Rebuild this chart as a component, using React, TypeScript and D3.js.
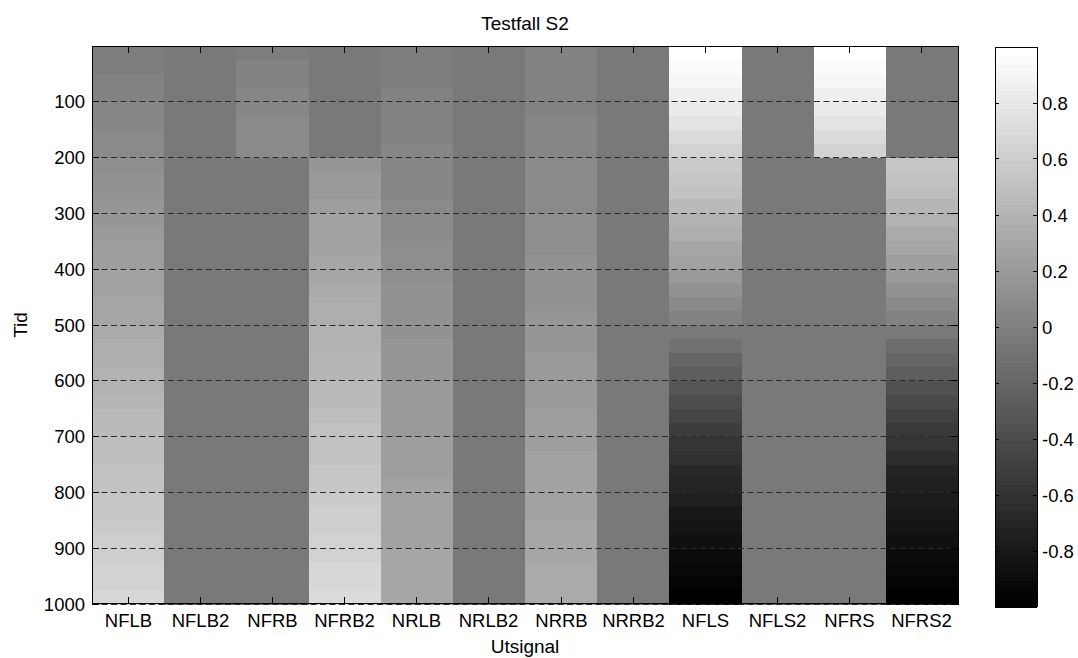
import * as d3 from 'd3'

// signal names along x
const columns = ['NFLB', 'NFLB2', 'NFRB', 'NFRB2', 'NRLB', 'NRLB2', 'NRRB', 'NRRB2', 'NFLS', 'NFLS2', 'NFRS', 'NFRS2']

// one value per 25 time units (40 rows, 0..1000)
const nflb = [
  -0.03, -0.01, 0.0, 0.02, 0.04, 0.06, 0.08, 0.09, 0.11, 0.13,
  0.15, 0.17, 0.18, 0.2, 0.22, 0.24, 0.26, 0.27, 0.29, 0.31,
  0.33, 0.35, 0.36, 0.38, 0.4, 0.42, 0.44, 0.45, 0.47, 0.49,
  0.51, 0.53, 0.54, 0.56, 0.58, 0.6, 0.62, 0.63, 0.65, 0.67,
]
const nflb2 = [
  -0.04, -0.04, -0.04, -0.04, -0.04, -0.04, -0.04, -0.04, -0.04, -0.04,
  -0.04, -0.04, -0.04, -0.04, -0.04, -0.04, -0.04, -0.04, -0.04, -0.04,
  -0.04, -0.04, -0.04, -0.04, -0.04, -0.04, -0.04, -0.04, -0.04, -0.04,
  -0.04, -0.04, -0.04, -0.04, -0.04, -0.04, -0.04, -0.04, -0.04, -0.04,
]
const nfrb = [
  -0.01, 0.01, 0.03, 0.05, 0.06, 0.07, 0.08, 0.09, -0.04, -0.04,
  -0.04, -0.04, -0.04, -0.04, -0.04, -0.04, -0.04, -0.04, -0.04, -0.04,
  -0.04, -0.04, -0.04, -0.04, -0.04, -0.04, -0.04, -0.04, -0.04, -0.04,
  -0.04, -0.04, -0.04, -0.04, -0.04, -0.04, -0.04, -0.04, -0.04, -0.04,
]
const nfrb2 = [
  -0.04, -0.04, -0.04, -0.04, -0.04, -0.04, -0.04, -0.04, 0.18, 0.2,
  0.21, 0.23, 0.25, 0.26, 0.28, 0.3, 0.31, 0.33, 0.35, 0.36,
  0.38, 0.4, 0.41, 0.43, 0.45, 0.46, 0.48, 0.5, 0.51, 0.53,
  0.55, 0.56, 0.58, 0.6, 0.61, 0.63, 0.65, 0.66, 0.68, 0.7,
]
const nrlb = [
  -0.02, -0.01, -0.01, 0.0, 0.01, 0.02, 0.03, 0.04, 0.05, 0.06,
  0.06, 0.07, 0.08, 0.09, 0.1, 0.11, 0.12, 0.13, 0.13, 0.14,
  0.15, 0.16, 0.17, 0.18, 0.19, 0.19, 0.2, 0.21, 0.22, 0.23,
  0.24, 0.25, 0.25, 0.26, 0.27, 0.28, 0.29, 0.3, 0.31, 0.31,
]
const nrlb2 = nflb2.slice()
const nrrb = [
  0.0, 0.01, 0.02, 0.03, 0.03, 0.04, 0.05, 0.06, 0.07, 0.08,
  0.09, 0.09, 0.1, 0.11, 0.12, 0.13, 0.14, 0.15, 0.15, 0.16,
  0.17, 0.18, 0.19, 0.2, 0.21, 0.21, 0.22, 0.23, 0.24, 0.25,
  0.26, 0.27, 0.27, 0.28, 0.29, 0.3, 0.31, 0.32, 0.33, 0.33,
]
const nrrb2 = nflb2.slice()
const nfls = [
  0.99, 0.96, 0.92, 0.87, 0.82, 0.77, 0.71, 0.65, 0.59, 0.55,
  0.5, 0.45, 0.4, 0.35, 0.3, 0.25, 0.19, 0.13, 0.07, 0.01,
  -0.05, -0.12, -0.19, -0.27, -0.34, -0.4, -0.46, -0.52, -0.57, -0.62,
  -0.67, -0.71, -0.75, -0.79, -0.83, -0.86, -0.89, -0.92, -0.95, -0.98,
]
const nfls2 = nflb2.slice()
const nfrs = [
  0.99, 0.96, 0.92, 0.87, 0.82, 0.77, 0.71, 0.65, -0.04, -0.04,
  -0.04, -0.04, -0.04, -0.04, -0.04, -0.04, -0.04, -0.04, -0.04, -0.04,
  -0.04, -0.04, -0.04, -0.04, -0.04, -0.04, -0.04, -0.04, -0.04, -0.04,
  -0.04, -0.04, -0.04, -0.04, -0.04, -0.04, -0.04, -0.04, -0.04, -0.04,
]
const nfrs2 = [
  -0.04, -0.04, -0.04, -0.04, -0.04, -0.04, -0.04, -0.04, 0.55, 0.51,
  0.47, 0.43, 0.39, 0.34, 0.29, 0.24, 0.19, 0.13, 0.07, 0.01,
  -0.06, -0.13, -0.2, -0.28, -0.35, -0.42, -0.48, -0.54, -0.59, -0.64,
  -0.69, -0.73, -0.77, -0.81, -0.84, -0.87, -0.9, -0.93, -0.96, -0.98,
]

const series = [nflb, nflb2, nfrb, nfrb2, nrlb, nrlb2, nrrb, nrrb2, nfls, nfls2, nfrs, nfrs2]

const rowStep = 25
const timeTicks = [100, 200, 300, 400, 500, 600, 700, 800, 900, 1000]
const cbTicks = [-0.8, -0.6, -0.4, -0.2, 0, 0.2, 0.4, 0.6, 0.8]

const W = 1078
const H = 658
const font = '"Liberation Sans", Arial, sans-serif'

// matlab style gray colormap, 64 levels, clim [-1 1]
const nLevels = 64
const gray = (v: number) => {
  let idx = Math.floor(((v + 1) / 2) * nLevels)
  idx = Math.max(0, Math.min(nLevels - 1, idx))
  const g = Math.round((idx / (nLevels - 1)) * 255)
  return `rgb(${g},${g},${g})`
}

// put 1px lines on pixel centres
const snap = (v: number) => Math.floor(v) + 0.5

export default function App() {
  const plot = { left: 92, right: 958, top: 46, bottom: 604 }
  const cb = { left: 995, right: 1037, top: 47, bottom: 607 }

  const x = d3.scaleBand().domain(columns).range([plot.left, plot.right]).padding(0)
  const y = d3.scaleLinear().domain([0, 1000]).range([plot.top, plot.bottom])
  const c = d3.scaleLinear().domain([-1, 1]).range([cb.bottom, cb.top])

  const tick = 7
  const cbTick = 4

  const levels = d3.range(nLevels)

  return (
    <svg width={W} height={H} style={{ position: 'absolute', left: 0, top: 0, background: '#fff' }} fontFamily={font}>
      {/* heatmap cells */}
      <g shapeRendering="crispEdges">
        {series.map((vals, j) =>
          vals.map((v, i) => (
            <rect
              key={`${j}-${i}`}
              x={x(columns[j])!}
              y={y(i * rowStep)}
              width={x.bandwidth() + 0.5}
              height={y(rowStep) - y(0) + 0.5}
              fill={gray(v)}
            />
          ))
        )}
      </g>

      {/* dashed grid */}
      <g>
        {timeTicks.map((t) => (
          <line
            key={t}
            x1={plot.left}
            x2={plot.right}
            y1={snap(y(t))}
            y2={snap(y(t))}
            stroke="#2a2a2a"
            strokeWidth={1}
            strokeDasharray="6 3.5"
          />
        ))}
      </g>

      {/* axes box + ticks */}
      <rect
        x={snap(plot.left)}
        y={snap(plot.top)}
        width={plot.right - plot.left}
        height={plot.bottom - plot.top - 1}
        fill="none"
        stroke="#000"
        strokeWidth={1}
      />
      {columns.map((col) => {
        const cx = snap(x(col)! + x.bandwidth() / 2)
        return (
          <g key={col}>
            <line x1={cx} x2={cx} y1={plot.top} y2={plot.top + tick} stroke="#000" />
            <line x1={cx} x2={cx} y1={plot.bottom} y2={plot.bottom - tick} stroke="#000" />
            <text x={cx} y={626.5} textAnchor="middle" fontSize={18.5} fill="#000">
              {col}
            </text>
          </g>
        )
      })}
      {timeTicks.map((t) => (
        <g key={t}>
          <line x1={plot.left} x2={plot.left + tick} y1={snap(y(t))} y2={snap(y(t))} stroke="#000" />
          <line x1={plot.right} x2={plot.right - tick} y1={snap(y(t))} y2={snap(y(t))} stroke="#000" />
          <text x={85} y={y(t) + 6.5} textAnchor="end" fontSize={18.5} fill="#000">
            {t}
          </text>
        </g>
      ))}

      {/* titles */}
      <text x={(plot.left + plot.right) / 2} y={30} textAnchor="middle" fontSize={19} fill="#000">
        Testfall S2
      </text>
      <text x={(plot.left + plot.right) / 2} y={653} textAnchor="middle" fontSize={19} fill="#000">
        Utsignal
      </text>
      <text
        transform={`translate(27,${(plot.top + plot.bottom) / 2}) rotate(-90)`}
        textAnchor="middle"
        fontSize={19}
        fill="#000"
      >
        Tid
      </text>

      {/* colorbar */}
      <g shapeRendering="crispEdges">
        {levels.map((k) => {
          const lo = -1 + (2 * k) / nLevels
          const hi = -1 + (2 * (k + 1)) / nLevels
          return (
            <rect
              key={k}
              x={cb.left}
              y={c(hi)}
              width={cb.right - cb.left}
              height={c(lo) - c(hi) + 0.5}
              fill={gray((lo + hi) / 2)}
            />
          )
        })}
      </g>
      <rect
        x={snap(cb.left)}
        y={snap(cb.top)}
        width={cb.right - cb.left}
        height={cb.bottom - cb.top - 1}
        fill="none"
        stroke="#000"
      />
      {cbTicks.map((v) => (
        <g key={v}>
          <line x1={cb.left} x2={cb.left + cbTick} y1={snap(c(v))} y2={snap(c(v))} stroke="#000" />
          <line x1={cb.right} x2={cb.right - cbTick} y1={snap(c(v))} y2={snap(c(v))} stroke="#000" />
          <text x={1042} y={c(v) + 6.5} fontSize={18.5} fill="#000">
            {String(v)}
          </text>
        </g>
      ))}
    </svg>
  )
}
